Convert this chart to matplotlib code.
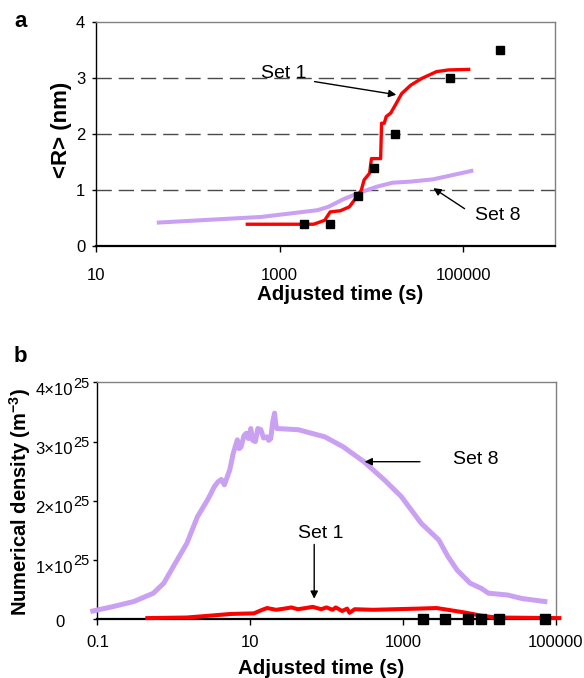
import matplotlib
matplotlib.use('Agg')
import matplotlib.pyplot as plt
from matplotlib.ticker import FixedLocator, FuncFormatter, NullLocator
from matplotlib.transforms import blended_transform_factory

plt.rcParams['font.family'] = ['Liberation Sans', 'DejaVu Sans']
plt.rcParams['mathtext.fontset'] = 'custom'
plt.rcParams['mathtext.rm'] = 'Liberation Sans'
plt.rcParams['mathtext.it'] = 'Liberation Sans:italic'
plt.rcParams['mathtext.bf'] = 'Liberation Sans:bold'

RED = '#ff0000'
PURPLE = '#c9a0f2'

# panel a: mean radius
set1_t_a = [443, 2340, 3090, 3550, 4570, 5750, 6920, 7760, 8320, 9550, 10000,
            12600, 12900, 13800, 14500, 16200, 18600, 21400, 26900, 35500,
            51300, 69200, 115000]
set1_r_a = [0.39, 0.39, 0.46, 0.61, 0.63, 0.70, 0.88, 1.00, 1.18, 1.30, 1.56,
            1.56, 2.19, 2.19, 2.31, 2.37, 2.54, 2.72, 2.87, 2.99,
            3.11, 3.14, 3.15]
set8_t_a = [48, 630, 2570, 3390, 5010, 7940, 11500, 17000, 26900, 46800,
            69200, 123000]
set8_r_a = [0.42, 0.52, 0.64, 0.70, 0.84, 0.97, 1.06, 1.13, 1.15, 1.19,
            1.25, 1.34]
exp_t = [1820, 3540, 7050, 10700, 17900, 72000, 253000]
exp_r = [0.40, 0.40, 0.90, 1.40, 2.00, 3.00, 3.50]

# panel b: numerical density (units of 1e25 m^-3)
set8_t_b = [0.087, 0.155, 0.30, 0.54, 0.74, 1.05, 1.48, 2.04, 2.75, 3.0, 3.4,
            3.8, 4.2, 4.6, 5.0, 5.4, 6.0, 6.8, 7.2, 7.6, 8.3, 8.9, 9.5, 10.2,
            10.8, 11.7, 12.6, 13.8, 15.0, 16.6, 17.5, 18.6, 19.8, 20.9, 21.6,
            22.4, 42.7, 95, 166, 309, 575, 955, 1740, 2950, 3890, 5130, 7590,
            10700, 13200, 23400, 36300, 72400]
set8_n_b = [0.14, 0.21, 0.30, 0.44, 0.61, 0.95, 1.28, 1.73, 2.01, 2.10, 2.24,
            2.32, 2.36, 2.27, 2.40, 2.52, 2.80, 3.03, 2.88, 2.91, 3.10, 3.14,
            3.05, 3.22, 3.02, 3.00, 3.22, 3.20, 3.06, 3.08, 3.02, 3.05, 3.34,
            3.48, 3.30, 3.22, 3.20, 3.08, 2.91, 2.66, 2.35, 2.07, 1.62, 1.34,
            1.06, 0.83, 0.61, 0.52, 0.44, 0.41, 0.35, 0.30]
set1_t_b = [0.45, 1.48, 2.9, 5.6, 11.2, 13.8, 16.6, 21.9, 28, 34.7, 42, 53.7,
            66, 85, 100, 120, 132, 160, 186, 200, 234, 407, 794, 1580, 2750,
            3890, 6760, 10700, 16600, 112000]
set1_n_b = [0.02, 0.03, 0.06, 0.09, 0.10, 0.15, 0.19, 0.16, 0.18, 0.20, 0.17,
            0.19, 0.21, 0.17, 0.20, 0.16, 0.20, 0.14, 0.18, 0.11, 0.17, 0.16,
            0.17, 0.18, 0.19, 0.16, 0.11, 0.06, 0.03, 0.02]
exp_n = [0.01, 0.01, 0.01, 0.01, 0.01, 0.01]
b_ticks = [1, 2, 3, 4]

fig = plt.figure(figsize=(5.84, 6.78), dpi=100)
ax1 = fig.add_axes([0.165, 0.637, 0.785, 0.331])
ax2 = fig.add_axes([0.1668, 0.0866, 0.7846, 0.3495])


def style(ax):
    ax.set_xscale('log')
    for s in ['top', 'right']:
        ax.spines[s].set_color('#808080')
        ax.spines[s].set_linewidth(1.0)
    ax.spines['left'].set_color('black')
    ax.spines['left'].set_linewidth(1.0)
    ax.spines['bottom'].set_color('black')
    ax.spines['bottom'].set_linewidth(1.6)
    ax.xaxis.set_minor_locator(NullLocator())
    ax.tick_params(axis='x', direction='out', length=4, width=1,
                   labelsize=12)
    ax.tick_params(axis='y', direction='out', length=3, width=1,
                   labelsize=12)
    for v in [1, 2, 3]:
        ax.axhline(v, color='#4a4a4a', lw=1.0, dashes=(11, 5), zorder=1)


# ---- panel a
style(ax1)
ax1.plot(set8_t_a, set8_r_a, color=PURPLE, lw=2.9, zorder=3)
ax1.plot(set1_t_a, set1_r_a, color=RED, lw=2.4, zorder=4)
ax1.plot(exp_t, exp_r, 's', color='black', ms=5.3, zorder=5)
ax1.set_xlim(10, 1e6)
ax1.set_ylim(0, 4)
ax1.xaxis.set_major_locator(FixedLocator([10, 1000, 100000]))
ax1.xaxis.set_major_formatter(FuncFormatter(lambda v, p: '%d' % v))
ax1.set_yticks([0, 1, 2, 3, 4])
ax1.tick_params(axis='x', pad=12)
ax1.tick_params(axis='y', pad=5)
ax1.set_xlabel('Adjusted time (s)', fontsize=14.8, fontweight='bold')
ax1.xaxis.set_label_coords(0.531, -0.214)
ax1.xaxis.label.set_va('center')
ax1.set_ylabel('<R> (nm)', fontsize=16, fontweight='bold')
ax1.yaxis.set_label_coords(-0.077, 0.518)
ax1.yaxis.label.set_va('center')

ax1.annotate('', xy=(20000, 2.69), xytext=(2240, 2.94),
             arrowprops=dict(arrowstyle='-|>', color='black', lw=1,
                             mutation_scale=11))
ax1.text(1120, 3.07, 'Set 1', fontsize=14, ha='center', va='center')
ax1.annotate('', xy=(44700, 1.06), xytext=(110000, 0.64),
             arrowprops=dict(arrowstyle='-|>', color='black', lw=1,
                             mutation_scale=11))
ax1.text(240000, 0.55, 'Set 8', fontsize=14, ha='center', va='center')

# ---- panel b
style(ax2)
ax2.plot(set8_t_b, [v * 1e25 for v in set8_n_b], color=PURPLE, lw=3.6,
         zorder=3, clip_on=False)
ax2.plot(set1_t_b, [v * 1e25 for v in set1_n_b], color=RED, lw=2.9,
         zorder=4, clip_on=False)
ax2.plot(exp_t[:6], [v * 1e25 for v in exp_n], 's', color='black', ms=7.5,
         zorder=5, clip_on=False)
ax2.set_xlim(0.1, 1e5)
ax2.set_ylim(0, 4e25)
ax2.xaxis.set_major_locator(FixedLocator([0.1, 10, 1000, 100000]))
ax2.xaxis.set_major_formatter(FuncFormatter(lambda v, p: '%g' % v))
ax2.set_yticks([0] + [v * 1e25 for v in b_ticks])
ax2.set_yticklabels([])
ax2.tick_params(axis='x', pad=7)

tr = blended_transform_factory(ax2.transAxes, ax2.transData)
for v in b_ticks:
    ax2.text(-0.0533, v * 1e25 - 0.135e25, '%d\u00d710' % v, transform=tr,
             fontsize=12, ha='right', va='center')
    ax2.text(-0.0533, v * 1e25 - 0.02e25, '25', transform=tr,
             fontsize=10.5, ha='left', va='center')
ax2.text(-0.0816, -0.0625e25, '0', transform=tr, fontsize=12,
         ha='center', va='center')

ax2.set_xlabel('Adjusted time (s)', fontsize=14.8, fontweight='bold')
ax2.xaxis.set_label_coords(0.489, -0.207)
ax2.xaxis.label.set_va('center')
ax2.set_ylabel(r'Numerical density (m$^{\mathbf{-3}}$)', fontsize=14.5,
               fontweight='bold')
ax2.yaxis.set_label_coords(-0.168, 0.496)
ax2.yaxis.label.set_va('center')

ax2.annotate('', xy=(290, 2.66e25), xytext=(1820, 2.66e25),
             arrowprops=dict(arrowstyle='-|>', color='black', lw=1,
                             mutation_scale=11))
ax2.text(9100, 2.70e25, 'Set 8', fontsize=14, ha='center', va='center')
ax2.annotate('', xy=(69, 0.30e25), xytext=(69, 1.31e25),
             arrowprops=dict(arrowstyle='-|>', color='black', lw=1,
                             mutation_scale=11))
ax2.text(85, 1.45e25, 'Set 1', fontsize=14, ha='center', va='center')

fig.text(0.035, 0.968, 'a', fontsize=16, fontweight='bold',
         ha='center', va='center')
fig.text(0.035, 0.474, 'b', fontsize=16, fontweight='bold',
         ha='center', va='center')

fig.savefig('out.png', dpi=100)
